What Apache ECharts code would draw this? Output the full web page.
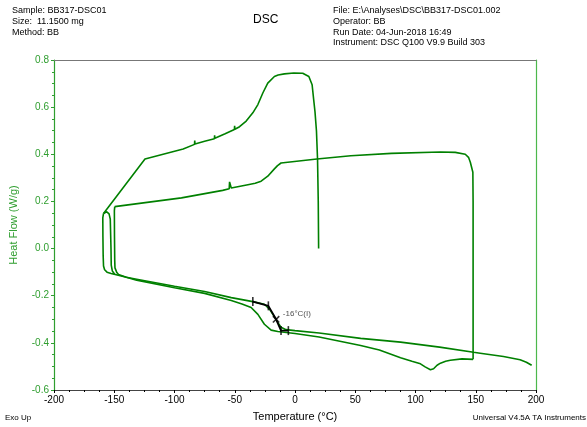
<!DOCTYPE html>
<html><head><meta charset="utf-8">
<script src="https://cdn.jsdelivr.net/npm/echarts@6/dist/echarts.min.js"></script>
<style>html,body{margin:0;padding:0;background:#fff}#c{width:587px;height:427px}</style>
</head><body><div id="c"></div>
<script>
// Temperature (°C), Heat Flow (W/g)
const cooling1 = [
[19.6,0.0],[19.3,0.2],[18.7,0.38],[17.8,0.5],[16.6,0.58],[15.5,0.632],[14.2,0.695],[11.5,0.73],[6.4,0.744],[-1,0.745],[-8.8,0.741],[-14,0.736],[-17.1,0.73],[-22.6,0.702],[-26.7,0.66],[-30.8,0.611],[-35,0.576],[-40.5,0.541],[-46,0.517],
[-49.9,0.506],[-50.1,0.521],[-50.3,0.505],
[-58,0.487],
[-66.5,0.468],[-66.7,0.481],[-66.9,0.466],
[-75,0.455],
[-83,0.444],[-83.2,0.458],[-83.4,0.442],
[-92.8,0.422],[-124.5,0.38],[-158.9,0.149]
];
const innerLoop = [[-158.9,0.149],[-156.2,0.156],[-154.3,0.147],[-153.3,0.125],[-152.7,0.0],[-152.5,-0.07],[-151.6,-0.095],[-149.5,-0.11]];
const heating1 = [
[-158.9,0.149],[-159.5,0.13],[-159.4,0.05],[-159.2,-0.03],[-158.9,-0.074],[-158,-0.09],[-156,-0.1],[-152.6,-0.106],[-140,-0.122],[-131.4,-0.134],[-100,-0.166],[-75,-0.19],[-52.9,-0.22],[-44,-0.235],[-36.4,-0.25],[-30.8,-0.279],[-25.4,-0.321],[-19.8,-0.346],[-14.3,-0.352],[0,-0.36],[20,-0.375],[54.5,-0.411],[70,-0.43],[87.6,-0.463],[97,-0.478],[104.1,-0.489],[108,-0.502],[112.4,-0.514],[115,-0.51],[117.9,-0.495],[120.7,-0.486],[125,-0.478],[128.9,-0.474],[138.6,-0.468],[147.8,-0.47]
];
const cooling2 = [
[147.8,-0.47],[147.8,-0.2],[147.8,0.2],[147.6,0.324],[145.5,0.366],[144,0.387],[141.3,0.40],[133,0.408],[120.7,0.41],[80,0.404],[46.3,0.394],[18.2,0.38],[-11.6,0.363],[-14.5,0.352],[-17.1,0.338],[-22.6,0.307],[-28.1,0.286],[-33,0.277],[-39.1,0.271],[-52.9,0.257],
[-54,0.255],[-54.3,0.283],[-54.6,0.254],
[-60,0.247],[-94.2,0.215],[-149.6,0.178]
];
const heating2 = [
[-149.6,0.178],[-149.9,0.16],[-149.8,0.05],[-149.6,-0.05],[-149.4,-0.082],[-148,-0.1],[-146.5,-0.11],[-140,-0.122],[-131.4,-0.13],[-100,-0.16],[-75,-0.182],[-52.9,-0.208],[-35,-0.225],[-25.4,-0.236],[-21.2,-0.257],[-17.6,-0.285],[-14.3,-0.313],[-11.6,-0.334],[-7.4,-0.344],[0,-0.348],[20,-0.358],[54.5,-0.381],[87.6,-0.397],[120,-0.418],[148.2,-0.44],[153.7,-0.444],[173,-0.458],[186.8,-0.472],[192,-0.482],[196.4,-0.495]
];
const tangentLine = [[-35,-0.225],[-22.1,-0.243],[-15.7,-0.30],[-11.6,-0.348],[-5.5,-0.348]];
const tangentTicks = [[-35,-0.225],[-22.1,-0.243],[-11.6,-0.348],[-5.5,-0.348]];
const inflection = [[-15.7,-0.30]];
const inflectionLabel = '-16°C(I)';
const xTicks = {min:-200, max:200, step:50};
const yTicks = {min:-0.6, max:0.8, step:0.2};
const headerLeft = ['Sample: BB317-DSC01','Size:  11.1500 mg','Method: BB'];
const headerRight = ['File: E:\\Analyses\\DSC\\BB317-DSC01.002','Operator: BB','Run Date: 04-Jun-2018 16:49','Instrument: DSC Q100 V9.9 Build 303'];

const FONT = 'Liberation Sans, Arial, Helvetica, sans-serif';
const CURVE = '#008000';
const AXG = '#2f9e2f';
const chart = echarts.init(document.getElementById('c'), null, {renderer:'canvas'});
function curve(d){return {type:'line', data:d, showSymbol:false, symbol:'none', lineStyle:{color:CURVE,width:1.6}, silent:true, animation:false, z:2};}
const texts = [];
headerLeft.forEach((t,i)=>texts.push({type:'text', left:12, top:6+i*10.8, style:{text:t, font:'9px '+FONT, fill:'#000'}}));
headerRight.forEach((t,i)=>texts.push({type:'text', left:333, top:6+i*10.8, style:{text:t, font:'9px '+FONT, fill:'#000'}}));
texts.push({type:'text', left:253, top:14, style:{text:'DSC', font:'12px '+FONT, fill:'#000'}});
texts.push({type:'text', left:5, top:414, style:{text:'Exo Up', font:'8px '+FONT, fill:'#000'}});
texts.push({type:'text', right:1, top:414, style:{text:'Universal V4.5A TA Instruments', font:'8px '+FONT, fill:'#000'}});
chart.setOption({
  animation:false,
  graphic: texts,
  grid:{left:52, right:51, top:60, bottom:34},
  xAxis:[{type:'value', min:xTicks.min, max:xTicks.max, interval:xTicks.step,
    name:'Temperature (°C)', nameLocation:'middle', nameGap:21, nameTextStyle:{fontFamily:FONT, fontSize:11, color:'#000'},
    axisLine:{show:true, onZero:false, lineStyle:{color:'#444', width:1}},
    axisTick:{show:true, length:3, lineStyle:{color:'#000'}},
    minorTick:{show:true, splitNumber:4, length:2, lineStyle:{color:'#000'}},
    axisLabel:{fontFamily:FONT, fontSize:10, color:'#000', margin:5},
    splitLine:{show:false}},
   {type:'value', position:'top', min:xTicks.min, max:xTicks.max, axisLine:{show:true, onZero:false, lineStyle:{color:'#777', width:1}}, axisTick:{show:false}, axisLabel:{show:false}, splitLine:{show:false}}],
  yAxis:[{type:'value', min:yTicks.min, max:yTicks.max, interval:yTicks.step,
    name:'Heat Flow (W/g)', nameLocation:'middle', nameGap:35, nameRotate:90, nameTextStyle:{fontFamily:FONT, fontSize:11, color:AXG},
    axisLine:{show:true, onZero:false, lineStyle:{color:AXG, width:1.2}},
    axisTick:{show:true, length:3, lineStyle:{color:AXG}},
    minorTick:{show:true, splitNumber:4, length:2, lineStyle:{color:AXG}},
    axisLabel:{fontFamily:FONT, fontSize:10, color:AXG, margin:5, formatter:v=>v.toFixed(1)},
    splitLine:{show:false}},
   {type:'value', position:'right', min:yTicks.min, max:yTicks.max, axisLine:{show:true, onZero:false, lineStyle:{color:'#4cb84c', width:1.2}}, axisTick:{show:false}, axisLabel:{show:false}, splitLine:{show:false}}],
  series:[
    curve(cooling1), curve(innerLoop), curve(heating1), curve(cooling2), curve(heating2),
    {type:'line', data:tangentLine, showSymbol:false, symbol:'none', lineStyle:{color:'#000', width:1.8}, z:3, silent:true},
    {type:'scatter', data:tangentTicks, symbol:'rect', symbolSize:[1.6,9], itemStyle:{color:'#000'}, z:4, silent:true},
    {type:'scatter', data:inflection, symbol:'rect', symbolSize:[1.6,9], symbolRotate:45, itemStyle:{color:'#000'}, z:4, silent:true},
    {type:'scatter', data:inflection, symbol:'rect', symbolSize:[1.6,9], symbolRotate:-45, itemStyle:{color:'#000'}, z:4, silent:true,
      label:{show:true, position:'right', distance:3, offset:[0,-5], formatter:inflectionLabel, fontFamily:FONT, fontSize:8, color:'#222'}}
  ]
});
</script></body></html>
